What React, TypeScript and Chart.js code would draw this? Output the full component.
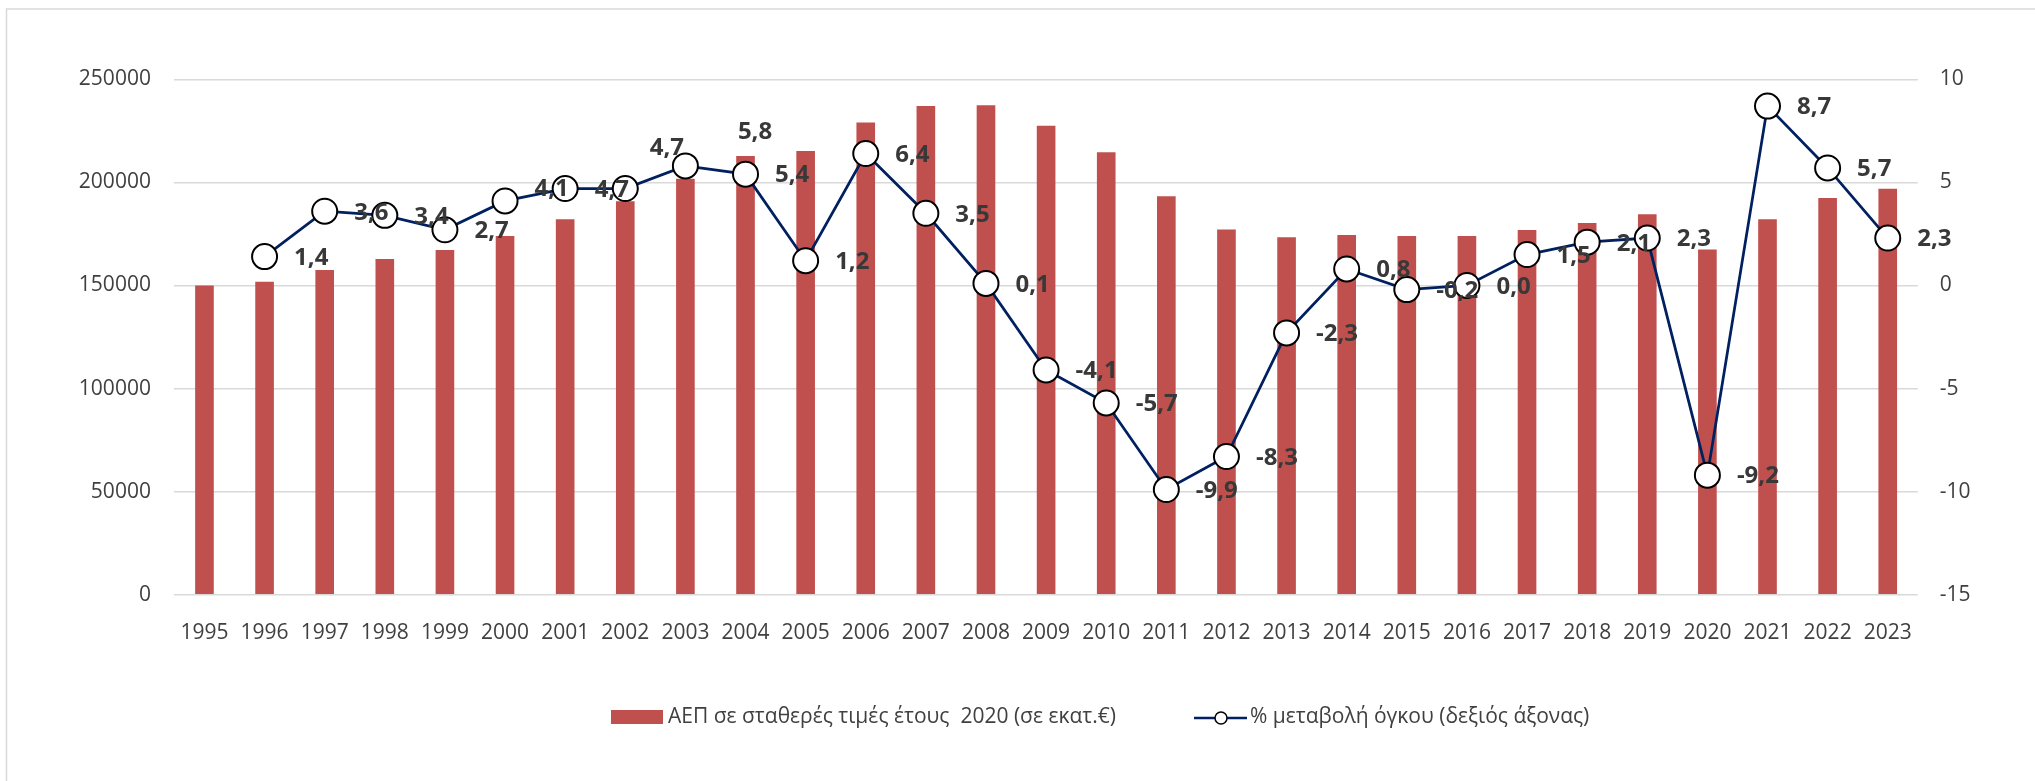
import React, { useEffect, useRef } from "react";
import { Chart, registerables } from "chart.js";

Chart.register(...registerables);

const years = [
  "1995", "1996", "1997", "1998", "1999", "2000", "2001", "2002", "2003", "2004",
  "2005", "2006", "2007", "2008", "2009", "2010", "2011", "2012", "2013", "2014",
  "2015", "2016", "2017", "2018", "2019", "2020", "2021", "2022", "2023",
];

const gdp = [
  150000, 151800, 157500, 162800, 167200, 174000, 182100, 190800, 201800, 212800,
  215200, 229000, 237000, 237400, 227500, 214600, 193300, 177200, 173400, 174500,
  174000, 174000, 176900, 180300, 184500, 167500, 182100, 192400, 196900,
];

const growth: (number | null)[] = [
  null, 1.4, 3.6, 3.4, 2.7, 4.1, 4.7, 4.7, 5.8, 5.4,
  1.2, 6.4, 3.5, 0.1, -4.1, -5.7, -9.9, -8.3, -2.3, 0.8,
  -0.2, 0.0, 1.5, 2.1, 2.3, -9.2, 8.7, 5.7, 2.3,
];

const leftTicks = [0, 50000, 100000, 150000, 200000, 250000];
const rightTicks = [-15, -10, -5, 0, 5, 10];

const barLabel = "ΑΕΠ σε σταθερές τιμές έτους  2020 (σε εκατ.€)";
const lineLabel = "% μεταβολή όγκου (δεξιός άξονας)";

const W = 2035;
const H = 781;
const FONT = "'Open Sans', 'Liberation Sans', sans-serif";
const BAR_COLOR = "#C0504D";
const LINE_COLOR = "#002060";
const TICK_COLOR = "#404040";

// label placement tweaks (manual positions in the original)
const labelShift: Record<string, [number, number]> = {
  "2000": [0, -13],
  "2002": [-5, -42],
  "2003": [23, -35],
};

const labelsPlugin = {
  id: "pointLabels",
  afterDatasetsDraw(chart: any) {
    const meta = chart.getDatasetMeta(1);
    const ctx = chart.ctx;
    ctx.save();
    ctx.font = `bold 24px ${FONT}`;
    ctx.fillStyle = "#383838";
    ctx.textAlign = "left";
    ctx.textBaseline = "middle";
    meta.data.forEach((pt: any, i: number) => {
      const v = growth[i];
      if (v === null || v === undefined) return;
      const sh = labelShift[years[i]] || [0, 0];
      const txt = v.toFixed(1).replace(".", ",");
      ctx.fillText(txt, pt.x + 29.5 + sh[0], pt.y + 1.5 + sh[1]);
    });
    ctx.restore();
  },
};

const framePlugin = {
  id: "frameLegend",
  beforeDraw(chart: any) {
    const ctx = chart.ctx;
    ctx.save();
    ctx.fillStyle = "#ffffff";
    ctx.fillRect(0, 0, W, H);
    ctx.strokeStyle = "#d9d9d9";
    ctx.lineWidth = 1.5;
    ctx.strokeRect(6.5, 9, W + 100, H + 100);
    ctx.restore();
  },
  afterDraw(chart: any) {
    const ctx = chart.ctx;
    ctx.save();
    // bar legend
    ctx.fillStyle = BAR_COLOR;
    ctx.fillRect(611, 710, 52, 14);
    ctx.font = `21px ${FONT}`;
    ctx.fillStyle = TICK_COLOR;
    ctx.textAlign = "left";
    ctx.textBaseline = "middle";
    ctx.fillText(barLabel, 668, 717);
    // line legend
    ctx.strokeStyle = LINE_COLOR;
    ctx.lineWidth = 2.5;
    ctx.beginPath();
    ctx.moveTo(1194, 718);
    ctx.lineTo(1247, 718);
    ctx.stroke();
    ctx.beginPath();
    ctx.arc(1221, 718, 6, 0, Math.PI * 2);
    ctx.fillStyle = "#ffffff";
    ctx.fill();
    ctx.strokeStyle = "#000000";
    ctx.lineWidth = 1.5;
    ctx.stroke();
    ctx.fillStyle = TICK_COLOR;
    ctx.fillText(lineLabel, 1250, 717);
    ctx.restore();
  },
};

export default function App() {
  const ref = useRef<HTMLCanvasElement | null>(null);

  useEffect(() => {
    document.body.style.margin = "0";
    const canvas = ref.current;
    if (!canvas) return;
    const tickFont = { family: FONT, size: 21 };
    const chart = new Chart(canvas, {
      type: "bar",
      data: {
        labels: years,
        datasets: [
          {
            type: "bar",
            label: barLabel,
            data: gdp,
            backgroundColor: BAR_COLOR,
            borderWidth: 0,
            barPercentage: 0.31,
            categoryPercentage: 1,
            yAxisID: "y",
            order: 2,
          },
          {
            type: "line",
            label: lineLabel,
            data: growth,
            borderColor: LINE_COLOR,
            borderWidth: 2.75,
            pointRadius: 12.5,
            pointBackgroundColor: "#ffffff",
            pointBorderColor: "#000000",
            pointBorderWidth: 2,
            tension: 0,
            yAxisID: "y1",
            order: 1,
          } as any,
        ],
      },
      options: {
        responsive: false,
        animation: false,
        devicePixelRatio: 1,
        layout: { padding: { top: 79.3, left: 0, right: 0, bottom: 0 } },
        plugins: {
          legend: { display: false },
          tooltip: { enabled: false },
        },
        scales: {
          x: {
            type: "category",
            offset: true,
            grid: { display: false },
            border: { display: false },
            ticks: {
              font: tickFont,
              color: TICK_COLOR,
              padding: 18,
              maxRotation: 0,
              autoSkip: false,
            },
            afterFit: (s: any) => {
              s.height = H - 594.7;
            },
          },
          y: {
            position: "left",
            min: 0,
            max: 250000,
            afterBuildTicks: (s: any) => {
              s.ticks = leftTicks.map((v) => ({ value: v }));
            },
            ticks: {
              font: tickFont,
              color: TICK_COLOR,
              padding: 23.5,
              callback: (v: any) => String(v),
            },
            grid: { color: "#d9d9d9", lineWidth: 1.5, drawTicks: false },
            border: { display: false },
            afterFit: (s: any) => {
              s.width = 174.4;
            },
          },
          y1: {
            position: "right",
            min: -15,
            max: 10,
            afterBuildTicks: (s: any) => {
              s.ticks = rightTicks.map((v) => ({ value: v }));
            },
            ticks: {
              font: tickFont,
              color: TICK_COLOR,
              padding: 22,
              callback: (v: any) => String(v),
            },
            grid: { display: false, drawTicks: false },
            border: { display: false },
            afterFit: (s: any) => {
              s.width = W - 1917.8;
            },
          },
        },
      } as any,
      plugins: [framePlugin, labelsPlugin],
    });
    return () => chart.destroy();
  }, []);

  return (
    <div style={{ width: W, height: H, position: "relative" }}>
      <canvas ref={ref} width={W} height={H} style={{ display: "block" }} />
    </div>
  );
}
